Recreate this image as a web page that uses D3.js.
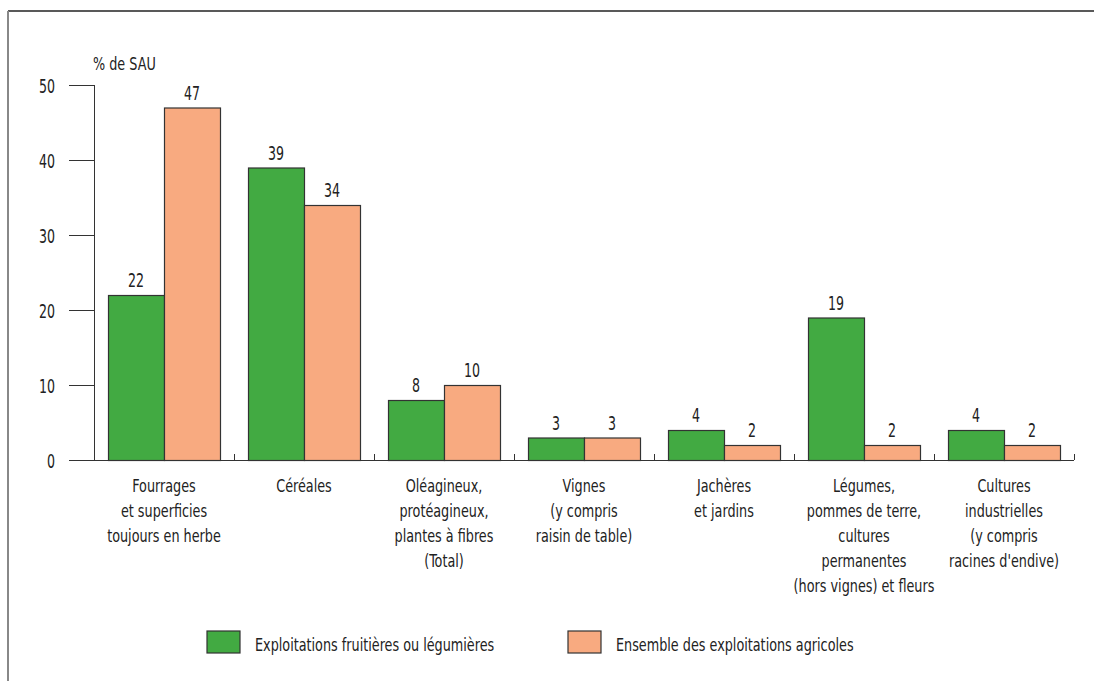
<!DOCTYPE html>
<html>
<head>
<meta charset="utf-8">
<script src="https://cdn.jsdelivr.net/npm/d3@7"></script>
<style>
  body { margin: 0; background: #fff; }
  svg text { font-family: "Liberation Sans Narrow", "DejaVu Sans Condensed", sans-serif; fill: #222; }
</style>
</head>
<body>
<svg id="chart" width="1094" height="682"></svg>
<script>
"use strict";

// categories, one entry per group, lines of the label
var categories = [
    ["Fourrages", "et superficies", "toujours en herbe"],
    ["Céréales"],
    ["Oléagineux,", "protéagineux,", "plantes à fibres", "(Total)"],
    ["Vignes", "(y compris", "raisin de table)"],
    ["Jachères", "et jardins"],
    ["Légumes,", "pommes de terre,", "cultures", "permanentes", "(hors vignes) et fleurs"],
    ["Cultures", "industrielles", "(y compris", "racines d'endive)"]
];
var seriesNames = ["Exploitations fruitières ou légumières", "Ensemble des exploitations agricoles"];
var fruitValues = [22, 39, 8, 3, 4, 19, 4];
var allValues = [47, 34, 10, 3, 2, 2, 2];
var yTicks = [0, 10, 20, 30, 40, 50];
var colors = ["#42aa42", "#f8aa80"];

// the original uses a tall condensed face: squeeze the text horizontally
var squeeze = 0.79;
var squeezeNum = 0.7;

var svg = d3.select('#chart');

function placeText(sel, x, y, s) {
    return sel.attr('x', 0).attr('y', 0)
        .attr('transform', (d, i) => 'translate(' + x(d, i) + ',' + y(d, i) + ') scale(' + s + ',1)');
}

// frame
svg.append('line').attr('x1', 8).attr('x2', 1094).attr('y1', 11).attr('y2', 11)
    .attr('stroke', '#222').attr('stroke-width', 1.5);
svg.append('line').attr('x1', 8).attr('x2', 8).attr('y1', 11).attr('y2', 681)
    .attr('stroke', '#888').attr('stroke-width', 2);

var x0 = d3.scaleBand().domain(d3.range(categories.length)).range([94, 1074]).paddingInner(0.2).paddingOuter(0.1);
var x1 = d3.scaleBand().domain([0, 1]).range([0, x0.bandwidth()]);
var y = d3.scaleLinear().domain([0, 50]).range([460, 85]);

// y axis
var yAxis = svg.append('g').attr('transform', 'translate(94,0)')
    .call(d3.axisLeft(y).tickValues(yTicks).tickSize(25).tickPadding(14));
yAxis.select('.domain').attr('stroke', '#333').attr('d', 'M0.5,' + y(50) + 'V' + y(0));
yAxis.selectAll('.tick line').attr('stroke', '#333');
yAxis.selectAll('.tick text')
    .attr('font-size', 20).attr('dy', '0.36em')
    .style('font-family', '"Liberation Sans Narrow", "DejaVu Sans Condensed", sans-serif').attr('fill', '#222')
    .attr('x', -39 / squeezeNum)
    .attr('transform', 'scale(' + squeezeNum + ',1)');

placeText(svg.append('text').datum('% de SAU').attr('font-size', 18).text(d => d),
    () => 93, () => 70, squeeze);

// x axis baseline with small group separators
var step = x0.step();
svg.append('line').attr('x1', 94).attr('x2', 1074).attr('y1', y(0) + 0.5).attr('y2', y(0) + 0.5)
    .attr('stroke', '#333');
svg.selectAll('.sep').data(d3.range(1, categories.length + 1)).join('line')
    .attr('class', 'sep')
    .attr('x1', d => 94 + d * step + 0.5).attr('x2', d => 94 + d * step + 0.5)
    .attr('y1', y(0)).attr('y2', y(0) - 6)
    .attr('stroke', '#333');

// bars
var groups = svg.selectAll('.grp').data(categories).join('g')
    .attr('class', 'grp')
    .attr('transform', (d, i) => 'translate(' + x0(i) + ',0)');

groups.each(function(d, i) {
    var g = d3.select(this);
    var vals = [fruitValues[i], allValues[i]];
    g.selectAll('rect').data(vals).join('rect')
        .attr('x', (v, j) => x1(j) + 0.5)
        .attr('y', v => y(v) + 0.5)
        .attr('width', x1.bandwidth())
        .attr('height', v => y(0) - y(v))
        .attr('fill', (v, j) => colors[j])
        .attr('stroke', '#333').attr('stroke-width', 1.2);
    placeText(g.selectAll('.val').data(vals).join('text')
        .attr('class', 'val')
        .attr('text-anchor', 'middle')
        .attr('font-size', 20)
        .text(v => v),
        (v, j) => x1(j) + x1.bandwidth() / 2, v => y(v) - 8, squeezeNum);
    placeText(g.selectAll('.lab').data(d).join('text')
        .attr('class', 'lab')
        .attr('text-anchor', 'middle')
        .attr('font-size', 18)
        .text(s => s),
        () => x0.bandwidth() / 2, (s, k) => 492 + k * 25, squeeze);
});

// legend
var legendX = [207, 568];
var legend = svg.selectAll('.leg').data(seriesNames).join('g')
    .attr('class', 'leg')
    .attr('transform', (d, i) => 'translate(' + legendX[i] + ',631)');
legend.append('rect').attr('width', 33).attr('height', 22)
    .attr('fill', (d, i) => colors[i]).attr('stroke', '#333').attr('stroke-width', 1.2);
placeText(legend.append('text').attr('font-size', 18).text(d => d),
    () => 48, () => 20, squeeze);
</script>
</body>
</html>
